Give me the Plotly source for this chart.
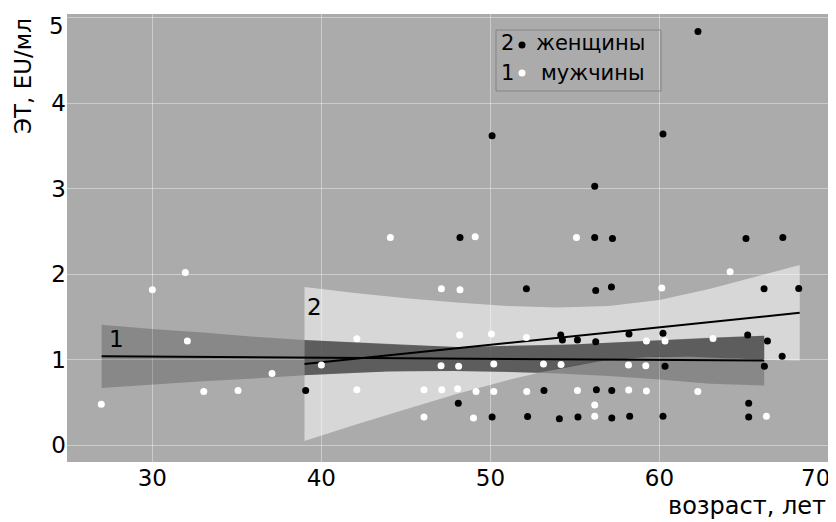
import numpy as np
import plotly.graph_objects as go

# ---- data ----
men_age = [26.98, 30.0, 31.95, 32.07, 33.04, 35.07, 37.08, 40.0,
           42.1, 42.1, 44.08, 46.07, 46.07, 47.1, 47.08, 47.12,
           48.2, 48.18, 48.12, 48.06, 49.1, 49.15, 49.0, 50.06, 50.2, 50.2,
           52.13, 52.15, 53.14, 54.18, 55.09, 55.15,
           56.17, 56.17, 58.17, 58.18, 59.23, 59.19, 59.23, 60.33, 60.14,
           62.27, 63.17, 64.18, 66.33]
men_et = [0.48, 1.82, 2.02, 1.22, 0.63, 0.64, 0.84, 0.94,
          1.245, 0.65, 2.43, 0.65, 0.33, 1.83, 0.93, 0.65,
          1.82, 1.29, 0.925, 0.66, 2.44, 0.63, 0.32, 1.30, 0.95, 0.63,
          1.26, 0.63, 0.95, 0.945, 2.43, 0.64,
          0.47, 0.34, 0.94, 0.645, 1.22, 0.93, 0.635, 1.22, 1.84,
          0.63, 1.25, 2.03, 0.34]

women_age = [39.07, 48.1, 48.2, 50.1, 50.1, 52.13, 52.2, 53.17, 54.16, 54.26,
             54.08, 55.15, 55.18, 56.17, 56.17, 56.23, 56.23, 56.27, 57.22, 57.16,
             57.18, 57.18, 58.2, 58.24, 60.21, 60.21, 60.33, 60.21, 62.28, 65.12,
             65.22, 65.28, 65.28, 66.19, 66.39, 66.21, 67.3, 67.26, 68.24]
women_et = [0.64, 0.49, 2.43, 3.62, 0.33, 1.83, 0.335, 0.64, 1.29, 1.23,
            0.31, 1.23, 0.33, 3.03, 2.43, 1.81, 1.21, 0.65, 2.42, 1.85,
            0.64, 0.32, 1.30, 0.34, 3.64, 1.31, 0.925, 0.34, 4.84, 2.42,
            1.29, 0.49, 0.33, 1.83, 1.22, 0.925, 2.43, 1.04, 1.835]

men_band_age = [27, 30, 33, 36, 39, 42, 45, 48, 51, 54, 57, 60, 63, 66.2]
men_band_hi = [1.41, 1.36, 1.32, 1.27, 1.23, 1.20, 1.17, 1.15, 1.16, 1.17, 1.20, 1.23, 1.26, 1.28]
men_band_lo = [0.67, 0.71, 0.75, 0.78, 0.82, 0.85, 0.87, 0.87, 0.86, 0.84, 0.81, 0.77, 0.72, 0.70]
men_fit_age = [27, 66.2]
men_fit = [1.04, 0.99]

women_band_age = [39, 42, 45, 48, 51, 54, 57, 60, 63, 66, 68.3]
women_band_hi = [1.85, 1.78, 1.72, 1.67, 1.63, 1.61, 1.63, 1.70, 1.83, 1.99, 2.11]
women_band_lo = [0.05, 0.24, 0.42, 0.60, 0.76, 0.90, 1.00, 1.04, 1.03, 1.00, 0.99]
women_fit_age = [39, 68.3]
women_fit = [0.95, 1.55]

x_ticks = [30, 40, 50, 60, 70]
y_ticks = [0, 1, 2, 3, 4, 5]
legend_labels = ["женщины", "мужчины"]
x_title = "возраст, лет"
y_title = "ЭТ, EU/мл"

FONT = "DejaVu Sans"
BG = "#ababab"

fig = go.Figure()

# women confidence band (light)
fig.add_trace(go.Scatter(
    x=women_band_age + women_band_age[::-1],
    y=women_band_hi + women_band_lo[::-1],
    fill="toself", mode="lines", line=dict(width=0),
    fillcolor="rgba(255,255,255,0.53)", hoverinfo="skip", showlegend=False))

# men confidence band (dark)
fig.add_trace(go.Scatter(
    x=men_band_age + men_band_age[::-1],
    y=men_band_hi + men_band_lo[::-1],
    fill="toself", mode="lines", line=dict(width=0),
    fillcolor="rgba(0,0,0,0.2)", hoverinfo="skip", showlegend=False))

# overlap of both bands (darker)
g = np.linspace(max(men_band_age[0], women_band_age[0]),
                min(men_band_age[-1], women_band_age[-1]), 200)
mh = np.interp(g, men_band_age, men_band_hi)
ml = np.interp(g, men_band_age, men_band_lo)
wh = np.interp(g, women_band_age, women_band_hi)
wl = np.interp(g, women_band_age, women_band_lo)
up = np.minimum(mh, wh)
lo = np.maximum(ml, wl)
fig.add_trace(go.Scatter(
    x=np.concatenate([g, g[::-1]]), y=np.concatenate([up, lo[::-1]]),
    fill="toself", mode="lines", line=dict(width=0),
    fillcolor="rgba(0,0,0,0.46)", hoverinfo="skip", showlegend=False))

# regression lines
fig.add_trace(go.Scatter(x=men_fit_age, y=men_fit, mode="lines",
                         line=dict(color="black", width=2), showlegend=False))
fig.add_trace(go.Scatter(x=women_fit_age, y=women_fit, mode="lines",
                         line=dict(color="black", width=2), showlegend=False))

# points
fig.add_trace(go.Scatter(x=men_age, y=men_et, mode="markers",
                         marker=dict(color="white", size=7, line=dict(width=0)),
                         showlegend=False))
fig.add_trace(go.Scatter(x=women_age, y=women_et, mode="markers",
                         marker=dict(color="black", size=7, line=dict(width=0)),
                         showlegend=False))

# page offset (body margin) compensated in figure size
OFF = 8
W, H = 828, 514
L, R, T, B = 59, 5, 6, 60

def xp(px):
    return (px - OFF - L) / (W - L - R)

def yp(py):
    return (H - B - (py - OFF)) / (H - T - B)

f23 = dict(family=FONT, size=23, color="black")
f22 = dict(family=FONT, size=21, color="black")

ann = []
# region labels
ann.append(dict(x=27.87, y=1.24, xref="x", yref="y", text="1", showarrow=False,
                xanchor="center", yanchor="middle", font=f23))
ann.append(dict(x=39.6, y=1.62, xref="x", yref="y", text="2", showarrow=False,
                xanchor="center", yanchor="middle", font=f23))
# edge tick labels
ann.append(dict(x=0, y=y_ticks[-1], xref="paper", yref="y", text=str(y_ticks[-1]),
                xanchor="right", yanchor="middle", xshift=-1, yshift=-8, showarrow=False,
                font=f23))
ann.append(dict(x=x_ticks[-1], y=yp(478), xref="x", yref="paper", text=str(x_ticks[-1]),
                xanchor="right", yanchor="middle", xshift=4, showarrow=False, font=f23))
# axis titles
ann.append(dict(x=xp(828), y=yp(506), xref="paper", yref="paper", text=x_title,
                xanchor="right", yanchor="middle", showarrow=False,
                font=dict(family=FONT, size=24, color="black")))
ann.append(dict(x=xp(23), y=yp(76), xref="paper", yref="paper", text=y_title,
                textangle=-90, xanchor="center", yanchor="middle", showarrow=False,
                font=f23))
# legend
ann.append(dict(x=xp(507), y=yp(43), xref="paper", yref="paper", text="2",
                xanchor="center", yanchor="middle", showarrow=False, font=f22))
ann.append(dict(x=xp(507), y=yp(73), xref="paper", yref="paper", text="1",
                xanchor="center", yanchor="middle", showarrow=False, font=f22))
ann.append(dict(x=xp(647), y=yp(43), xref="paper", yref="paper", text=legend_labels[0],
                xanchor="right", yanchor="middle", showarrow=False, font=f22))
ann.append(dict(x=xp(647), y=yp(73), xref="paper", yref="paper", text=legend_labels[1],
                xanchor="right", yanchor="middle", showarrow=False, font=f22))

shapes = [
    dict(type="rect", xref="paper", yref="paper", x0=xp(496), x1=xp(661), y0=yp(91), y1=yp(30),
         line=dict(color="#858585", width=1), fillcolor="rgba(0,0,0,0)", layer="above"),
    dict(type="circle", xref="paper", yref="paper", xsizemode="pixel", ysizemode="pixel",
         xanchor=xp(522), yanchor=yp(45), x0=-3.5, x1=3.5, y0=-3.5, y1=3.5,
         fillcolor="black", line=dict(width=0)),
    dict(type="circle", xref="paper", yref="paper", xsizemode="pixel", ysizemode="pixel",
         xanchor=xp(522), yanchor=yp(73), x0=-3.5, x1=3.5, y0=-3.5, y1=3.5,
         fillcolor="white", line=dict(width=0)),
]

fig.update_layout(
    width=W, height=H, autosize=False,
    margin=dict(l=L, r=R, t=T, b=B, pad=0),
    paper_bgcolor="white", plot_bgcolor=BG,
    font=f23,
    showlegend=False,
    annotations=ann, shapes=shapes,
    xaxis=dict(range=[24.95, 70.15], tickvals=x_ticks,
               ticktext=[str(v) for v in x_ticks[:-1]] + [""],
               showgrid=True, gridcolor="rgba(255,255,255,0.4)", gridwidth=1,
               zeroline=False, showline=False, ticks="",
               tickfont=f23),
    yaxis=dict(range=[-0.196, 5.045], tickvals=y_ticks,
               ticktext=[str(v) for v in y_ticks[:-1]] + [""],
               showgrid=True, gridcolor="rgba(255,255,255,0.4)", gridwidth=1,
               zeroline=False, showline=False, ticks="",
               ticklabelstandoff=0,
               tickfont=f23),
)

fig.write_html("out.html")
